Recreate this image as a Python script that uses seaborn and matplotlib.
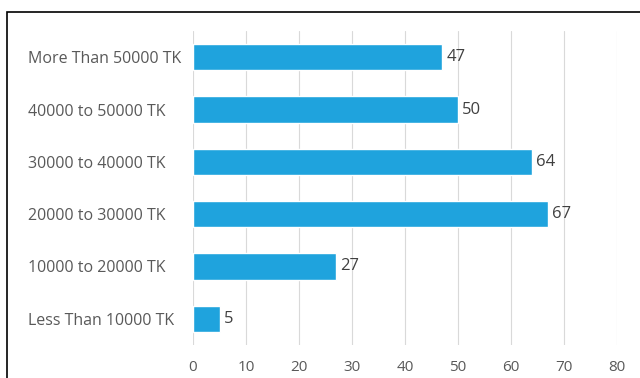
import matplotlib
matplotlib.use("Agg")
import matplotlib.pyplot as plt
import seaborn as sns
import pandas as pd
from matplotlib.patches import Rectangle

categories = ["More Than 50000 TK", "40000 to 50000 TK", "30000 to 40000 TK",
              "20000 to 30000 TK", "10000 to 20000 TK", "Less Than 10000 TK"]
values = [47, 50, 64, 67, 27, 5]
xticks = [0, 10, 20, 30, 40, 50, 60, 70, 80]

sns.set_theme(style="white")
plt.rcParams['font.family'] = ['Open Sans', 'DejaVu Sans']

df = pd.DataFrame({"cat": categories, "val": values})

fig = plt.figure(figsize=(6.4, 3.78), dpi=100)
ax = fig.add_axes([193/640, 1-345/378, (617-193)/640, (345-31)/378])

sns.barplot(data=df, x="val", y="cat", orient="h", color="#1FA3DD",
            saturation=1, width=0.5, ax=ax)

ax.set_xlim(0, 80)
ax.set_xticks(xticks)
ax.set_xticklabels([str(t) for t in xticks])
ax.set_xlabel("")
ax.set_ylabel("")
for s in ax.spines.values():
    s.set_visible(False)
ax.grid(axis="x", color="#D9D9D9", linewidth=0.8)
ax.set_axisbelow(True)
ax.tick_params(axis="both", length=0, colors="#595959")
ax.tick_params(axis="x", labelsize=11, pad=11)
ax.tick_params(axis="y", labelsize=11.5, pad=(193-28)*0.72)
for lab in ax.get_yticklabels():
    lab.set_ha("left")

for p, v in zip(ax.patches, values):
    ax.text(p.get_width() + 0.8, p.get_y() + p.get_height()/2, str(v),
            va="center", ha="left", fontsize=12, color="#404040")

fig.patches.append(Rectangle((7/640, -0.2), 1.2, 1 - 12/378 + 0.2,
                             transform=fig.transFigure, fill=False,
                             edgecolor="black", linewidth=1.2))

fig.savefig("out.png", dpi=100)
